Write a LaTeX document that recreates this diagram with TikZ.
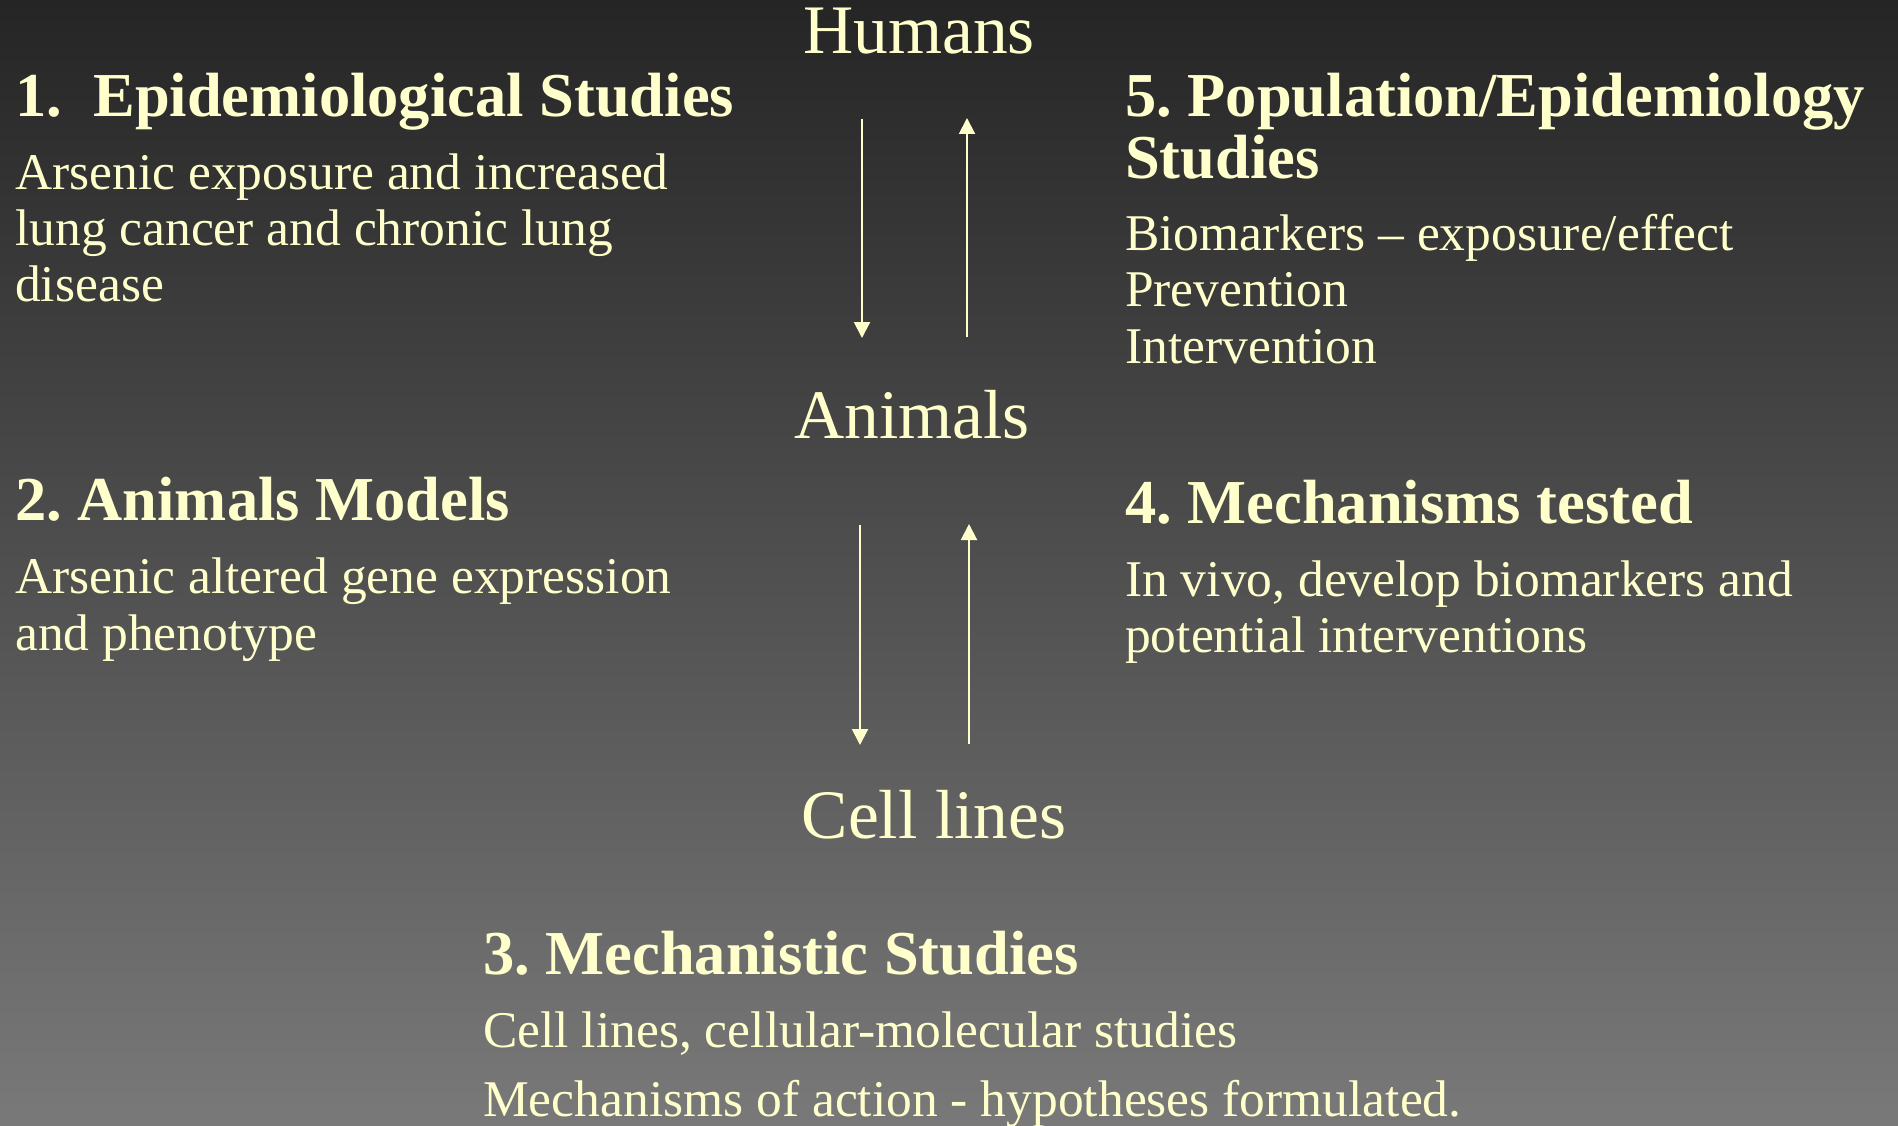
\documentclass[tikz,border=0pt]{standalone}
\usepackage{fontspec}
\setmainfont{Liberation Serif}
\usetikzlibrary{arrows.meta}
\definecolor{txt}{HTML}{FFFFCC}
\definecolor{bgtop}{HTML}{252525}
\definecolor{bgbot}{HTML}{797979}
\frenchspacing
\begin{document}
\begin{tikzpicture}[x=1pt,y=-1pt,
  bodyline/.style={anchor=base west, inner sep=0pt, text=txt, font=\fontsize{51.5}{56}\selectfont},
  headline/.style={anchor=base west, inner sep=0pt, text=txt, font=\bfseries\fontsize{62.5}{70}\selectfont},
  level/.style={anchor=base, inner sep=0pt, text=txt, font=\fontsize{69.5}{76}\selectfont},
  link/.style={draw=txt, line width=2pt, -{Triangle[length=16pt,width=16pt]}}]
\shade[top color=bgtop, bottom color=bgbot] (0,0) rectangle (1898,1126);
\useasboundingbox (0,0) rectangle (1898,1126);
% levels
\node[level] (humans) at (919,54) {Humans};
\node[level] (animals) at (912,438) {Animals};
\node[level] (cells) at (934,838) {Cell lines};
% block 1
\node[headline] (h1) at (15,117) {1.\ \ Epidemiological Studies};
\node[bodyline] (b1a) at (15,190) {Arsenic exposure and increased};
\node[bodyline] (b1b) at (15,246) {lung cancer and chronic lung};
\node[bodyline] (b1c) at (15,301) {disease};
% block 5
\node[headline] (h5a) at (1125,117) {5. Population/Epidemiology};
\node[headline] (h5b) at (1125,179) {Studies};
\node[bodyline] (b5a) at (1125,251) {Biomarkers – exposure/effect};
\node[bodyline] (b5b) at (1125,306) {Prevention};
\node[bodyline] (b5c) at (1125,363) {Intervention};
% block 2
\node[headline] (h2) at (15,520) {2. Animals Models};
\node[bodyline] (b2a) at (15,593) {Arsenic altered gene expression};
\node[bodyline] (b2b) at (15,650) {and phenotype};
% block 4
\node[headline] (h4) at (1125,523) {4. Mechanisms tested};
\node[bodyline] (b4a) at (1125,596) {In vivo, develop biomarkers and};
\node[bodyline] (b4b) at (1125,652) {potential interventions};
% block 3
\node[headline] (h3) at (483,974) {3. Mechanistic Studies};
\node[bodyline] (b3a) at (483,1047) {Cell lines, cellular-molecular studies};
\node[bodyline] (b3b) at (483,1116) {Mechanisms of action - hypotheses formulated.};
% arrows
\coordinate (ha1) at (862,119);
\coordinate (ah1) at (862,338);
\coordinate (ah2) at (967,337);
\coordinate (ha2) at (967,118);
\coordinate (ac1) at (860,525);
\coordinate (ca1) at (860,745);
\coordinate (ca2) at (969,744);
\coordinate (ac2) at (969,524);
\draw[link] (ha1) -- (ah1);
\draw[link] (ah2) -- (ha2);
\draw[link] (ac1) -- (ca1);
\draw[link] (ca2) -- (ac2);
\end{tikzpicture}
\end{document}
